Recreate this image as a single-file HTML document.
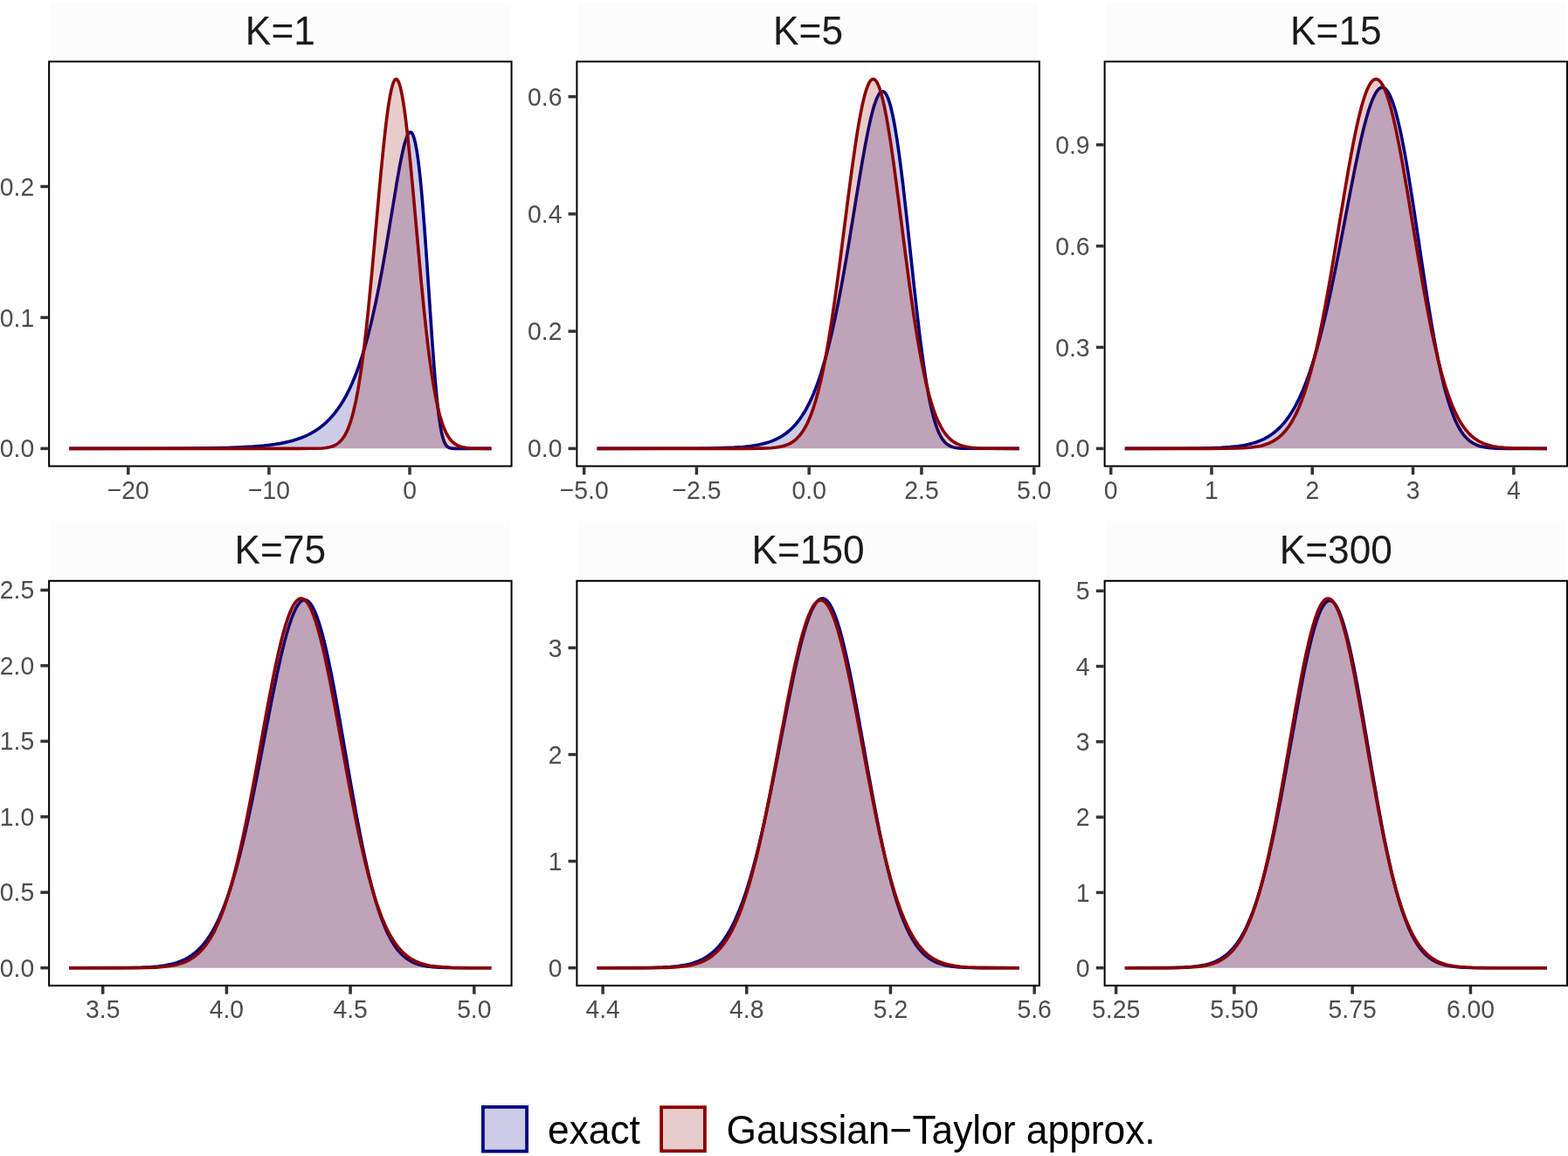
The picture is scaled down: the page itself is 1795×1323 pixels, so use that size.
<!DOCTYPE html><html><head><meta charset="utf-8"><title>Exact vs Gaussian-Taylor approximation densities</title><style>html,body{margin:0;padding:0;background:#fff;overflow:hidden;}svg{display:block;}</style></head><body>
<svg width="1795" height="1323" viewBox="0 0 1795 1323" font-family='"Liberation Sans", Arial, Helvetica, sans-serif'>
<rect x="0" y="0" width="1795" height="1323" fill="#ffffff"/>
<defs><clipPath id="c0"><rect x="55.14" y="69.40" width="531.43" height="465.10"/></clipPath><path id="p00" d="M79.30 513.36 L187.87 513.26 L217.19 513.12 L239.74 512.89 L259.40 512.49 L275.83 511.91 L289.84 511.12 L302.09 510.08 L308.37 509.38 L314.33 508.57 L319.97 507.65 L325.29 506.63 L330.28 505.50 L335.11 504.23 L339.78 502.80 L344.13 501.28 L348.32 499.60 L352.35 497.77 L356.21 495.79 L359.92 493.65 L363.46 491.36 L366.85 488.93 L370.23 486.23 L373.45 483.38 L376.83 480.07 L380.06 476.59 L383.28 472.74 L386.34 468.71 L389.24 464.53 L392.14 459.97 L395.04 454.99 L397.78 449.87 L400.52 444.31 L403.09 438.65 L405.67 432.53 L408.09 426.37 L410.50 419.76 L412.92 412.68 L415.34 405.09 L417.59 397.54 L421.78 382.23 L425.97 365.14 L430.00 346.97 L434.18 326.24 L437.73 307.28 L441.59 285.27 L455.13 203.70 L457.70 189.42 L460.12 177.27 L461.57 170.76 L462.86 165.58 L464.15 161.05 L465.27 157.70 L466.40 154.98 L467.53 152.95 L468.17 152.13 L468.66 151.68 L469.30 151.32 L469.79 151.24 L470.59 151.46 L471.24 151.98 L472.04 153.07 L472.69 154.31 L473.49 156.34 L474.14 158.35 L475.42 163.46 L476.87 171.00 L478.16 179.31 L479.45 189.18 L480.74 200.58 L482.03 213.48 L483.32 227.81 L485.89 260.30 L488.31 294.40 L494.75 390.26 L496.53 414.43 L498.30 436.35 L500.39 458.66 L502.33 475.42 L503.29 482.38 L504.26 488.43 L505.23 493.60 L506.35 498.60 L507.16 501.55 L508.13 504.47 L509.09 506.80 L510.22 508.88 L511.35 510.39 L512.48 511.45 L513.76 512.26 L515.37 512.84 L517.63 513.20 L521.17 513.34 L562.41 513.36"/><path id="p01" d="M79.30 513.36 L342.20 513.36 L355.73 513.32 L363.46 513.19 L368.94 512.93 L373.29 512.50 L377.00 511.85 L380.22 510.96 L383.12 509.77 L385.86 508.20 L388.27 506.33 L390.53 504.08 L392.14 502.10 L393.75 499.77 L395.36 497.05 L396.81 494.21 L398.26 490.97 L399.55 487.72 L401.00 483.61 L402.29 479.52 L403.58 475.00 L404.87 470.01 L407.44 458.52 L409.86 445.79 L412.28 431.03 L414.53 415.37 L416.95 396.54 L419.20 377.11 L421.62 354.43 L426.13 307.78 L433.70 223.41 L436.44 193.82 L439.34 164.72 L441.92 141.72 L443.53 129.09 L444.98 119.05 L446.43 110.38 L447.88 103.18 L449.33 97.54 L450.13 95.11 L450.78 93.53 L451.58 92.02 L452.23 91.19 L452.87 90.70 L453.52 90.54 L454.16 90.72 L454.80 91.24 L455.45 92.10 L456.09 93.29 L457.38 96.66 L458.67 101.33 L459.96 107.25 L461.41 115.32 L462.70 123.70 L464.15 134.36 L466.72 156.19 L469.62 184.32 L472.69 216.87 L482.19 322.12 L485.41 354.92 L488.47 383.28 L490.24 398.27 L492.02 412.15 L493.63 423.78 L495.40 435.49 L497.17 446.07 L498.94 455.57 L500.72 464.03 L502.65 472.13 L504.58 479.15 L506.68 485.64 L508.77 491.09 L510.86 495.62 L513.12 499.60 L515.54 502.99 L516.82 504.49 L518.11 505.79 L519.40 506.92 L520.85 508.02 L523.59 509.64 L526.65 510.92 L530.03 511.86 L533.90 512.53 L538.25 512.94 L543.73 513.19 L562.41 513.35"/><clipPath id="c1"><rect x="659.37" y="69.40" width="531.43" height="465.10"/></clipPath><path id="p10" d="M683.53 513.36 L775.67 513.30 L797.74 513.20 L814.17 513.01 L828.67 512.67 L840.59 512.16 L850.74 511.43 L859.44 510.48 L864.11 509.79 L868.62 508.98 L872.81 508.07 L876.68 507.06 L880.54 505.87 L884.09 504.59 L887.47 503.17 L890.69 501.63 L893.75 499.95 L896.81 498.05 L899.71 496.01 L902.61 493.72 L905.35 491.31 L907.93 488.78 L910.51 485.99 L913.08 482.91 L915.66 479.52 L918.08 476.03 L920.49 472.22 L922.75 468.35 L925.00 464.15 L927.26 459.62 L929.52 454.73 L931.61 449.84 L933.70 444.61 L935.80 439.02 L937.89 433.05 L939.99 426.69 L944.01 413.31 L947.88 398.98 L951.75 383.14 L955.61 365.78 L959.48 346.92 L963.51 325.76 L967.05 305.99 L970.92 283.37 L982.68 211.40 L986.70 187.38 L990.73 164.84 L994.44 146.13 L996.69 135.99 L998.79 127.61 L1000.88 120.34 L1002.81 114.73 L1004.75 110.26 L1005.71 108.49 L1006.52 107.26 L1007.48 106.08 L1008.45 105.24 L1009.42 104.74 L1010.22 104.60 L1011.19 104.75 L1012.16 105.28 L1013.12 106.17 L1014.09 107.44 L1015.06 109.09 L1016.02 111.12 L1016.99 113.54 L1017.96 116.34 L1019.89 123.08 L1021.82 131.34 L1023.75 141.07 L1025.85 153.19 L1027.62 164.66 L1029.55 178.35 L1031.49 193.15 L1033.58 210.27 L1037.77 247.12 L1045.82 322.09 L1049.37 354.08 L1053.07 385.34 L1056.62 412.33 L1058.71 426.70 L1060.64 438.85 L1062.58 449.89 L1064.67 460.60 L1066.61 469.33 L1068.70 477.60 L1070.79 484.69 L1072.89 490.68 L1074.82 495.31 L1076.92 499.47 L1079.01 502.83 L1081.26 505.68 L1083.52 507.86 L1084.81 508.86 L1086.10 509.70 L1088.84 511.05 L1090.45 511.63 L1092.06 512.07 L1094.64 512.58 L1097.54 512.93 L1101.08 513.17 L1105.43 513.29 L1166.64 513.36"/><path id="p11" d="M683.53 513.36 L855.73 513.33 L872.00 513.16 L877.64 512.98 L882.48 512.70 L888.76 512.06 L894.07 511.13 L896.49 510.54 L898.91 509.80 L901.00 509.03 L903.10 508.11 L905.03 507.11 L906.96 505.94 L908.73 504.72 L910.51 503.31 L912.28 501.72 L913.89 500.09 L915.50 498.26 L917.11 496.22 L919.04 493.48 L920.82 490.65 L922.59 487.50 L924.20 484.33 L925.81 480.84 L927.42 477.03 L929.03 472.88 L930.64 468.35 L933.70 458.69 L936.76 447.54 L939.66 435.52 L942.56 422.03 L945.46 407.05 L948.52 389.63 L951.58 370.62 L954.81 349.03 L957.71 328.36 L960.77 305.53 L971.24 223.84 L975.27 193.41 L979.29 165.13 L981.23 152.65 L983.00 141.97 L985.25 129.56 L987.35 119.36 L989.44 110.56 L991.54 103.26 L992.66 99.98 L993.63 97.55 L994.60 95.47 L995.56 93.75 L996.69 92.21 L997.66 91.28 L998.62 90.73 L999.59 90.54 L1000.40 90.67 L1001.36 91.17 L1002.17 91.87 L1003.13 93.04 L1003.94 94.30 L1004.91 96.14 L1005.87 98.34 L1006.84 100.90 L1008.61 106.47 L1010.54 113.81 L1012.48 122.40 L1014.57 133.01 L1016.34 142.96 L1018.28 154.73 L1020.37 168.44 L1022.47 182.98 L1026.98 216.47 L1036.64 292.00 L1040.99 324.89 L1045.66 357.91 L1047.92 372.75 L1050.17 386.78 L1052.75 401.77 L1055.33 415.60 L1057.91 428.25 L1060.48 439.72 L1063.06 450.05 L1065.80 459.81 L1068.54 468.38 L1071.28 475.85 L1074.18 482.64 L1077.08 488.41 L1078.53 490.94 L1080.14 493.49 L1081.75 495.80 L1083.36 497.88 L1084.97 499.75 L1086.74 501.57 L1088.51 503.19 L1090.29 504.60 L1092.22 505.95 L1094.15 507.11 L1096.25 508.19 L1098.50 509.16 L1102.53 510.49 L1107.04 511.53 L1112.19 512.29 L1118.32 512.81 L1124.92 513.10 L1133.46 513.27 L1166.64 513.36"/><clipPath id="c2"><rect x="1263.60" y="69.40" width="531.43" height="465.10"/></clipPath><path id="p20" d="M1287.76 513.36 L1354.61 513.26 L1372.33 513.10 L1385.86 512.82 L1397.94 512.35 L1408.09 511.66 L1416.95 510.71 L1424.85 509.45 L1429.03 508.58 L1432.90 507.62 L1436.77 506.47 L1440.31 505.24 L1443.69 503.88 L1447.08 502.31 L1450.14 500.69 L1453.20 498.86 L1456.10 496.91 L1459.00 494.72 L1461.74 492.43 L1464.48 489.88 L1467.05 487.23 L1469.63 484.33 L1472.21 481.15 L1474.62 477.90 L1476.88 474.62 L1478.97 471.34 L1481.23 467.56 L1483.32 463.79 L1487.51 455.48 L1491.54 446.45 L1495.57 436.34 L1499.43 425.55 L1503.30 413.66 L1507.00 401.21 L1511.03 386.49 L1515.22 369.87 L1519.41 351.98 L1523.76 332.13 L1527.78 312.74 L1531.97 291.71 L1546.15 217.58 L1551.30 191.38 L1556.62 166.11 L1559.04 155.48 L1561.29 146.15 L1564.19 135.14 L1567.09 125.37 L1569.83 117.43 L1571.12 114.16 L1572.41 111.20 L1573.70 108.57 L1574.98 106.28 L1576.27 104.33 L1577.40 102.92 L1578.69 101.64 L1579.98 100.74 L1581.27 100.22 L1582.40 100.07 L1583.68 100.27 L1584.97 100.86 L1586.26 101.84 L1587.39 103.03 L1588.52 104.51 L1589.81 106.58 L1591.09 109.05 L1592.38 111.90 L1594.80 118.30 L1597.38 126.57 L1599.95 136.29 L1602.53 147.36 L1604.95 158.89 L1607.36 171.43 L1609.94 185.79 L1612.68 202.02 L1618.16 236.76 L1629.11 309.88 L1633.94 341.20 L1639.10 372.56 L1641.52 386.29 L1643.93 399.32 L1646.83 413.94 L1649.57 426.68 L1652.31 438.36 L1655.05 448.97 L1657.79 458.52 L1660.53 467.03 L1663.42 474.95 L1666.32 481.83 L1669.22 487.73 L1672.29 492.98 L1673.73 495.15 L1675.35 497.35 L1676.96 499.32 L1678.57 501.09 L1680.18 502.68 L1681.95 504.22 L1683.72 505.57 L1685.66 506.85 L1687.59 507.95 L1689.52 508.89 L1691.62 509.74 L1693.87 510.50 L1697.90 511.52 L1702.25 512.24 L1707.24 512.76 L1713.36 513.09 L1728.18 513.33 L1770.87 513.36"/><path id="p21" d="M1287.76 513.36 L1380.55 513.35 L1405.51 513.23 L1415.50 513.04 L1423.40 512.72 L1430.16 512.24 L1435.96 511.58 L1439.34 511.05 L1442.57 510.41 L1445.63 509.65 L1448.53 508.79 L1451.27 507.81 L1453.84 506.73 L1456.42 505.47 L1458.84 504.09 L1461.25 502.52 L1463.51 500.85 L1465.76 498.95 L1467.86 496.99 L1469.95 494.79 L1472.05 492.36 L1473.98 489.88 L1475.91 487.17 L1477.85 484.21 L1479.62 481.25 L1483.16 474.63 L1486.71 466.96 L1490.09 458.60 L1493.47 449.15 L1496.69 439.08 L1500.08 427.34 L1503.30 415.04 L1506.84 400.24 L1510.55 383.36 L1514.25 365.12 L1517.96 345.62 L1521.50 325.94 L1525.37 303.53 L1538.42 224.72 L1543.57 194.52 L1546.31 179.25 L1548.89 165.57 L1551.30 153.46 L1553.56 142.87 L1556.46 130.43 L1559.20 120.01 L1561.94 111.01 L1563.39 106.87 L1564.67 103.55 L1566.12 100.25 L1567.41 97.71 L1568.70 95.55 L1569.99 93.76 L1571.28 92.37 L1572.57 91.37 L1573.86 90.76 L1575.15 90.54 L1576.27 90.68 L1577.56 91.21 L1578.69 91.99 L1579.98 93.26 L1581.11 94.68 L1582.40 96.67 L1583.52 98.73 L1584.81 101.42 L1587.23 107.46 L1589.81 115.25 L1592.38 124.34 L1594.96 134.66 L1597.38 145.34 L1599.79 156.89 L1602.37 170.06 L1605.11 184.87 L1610.75 217.36 L1622.83 290.45 L1628.31 322.59 L1634.11 354.54 L1636.84 368.67 L1639.58 382.10 L1642.81 396.94 L1646.03 410.71 L1649.09 422.77 L1652.31 434.39 L1655.53 444.92 L1658.75 454.39 L1662.14 463.25 L1665.52 471.05 L1669.06 478.17 L1672.61 484.29 L1674.38 487.02 L1676.31 489.74 L1678.25 492.23 L1680.34 494.68 L1682.43 496.88 L1684.53 498.86 L1686.62 500.63 L1688.88 502.33 L1691.13 503.83 L1693.55 505.24 L1695.97 506.46 L1698.54 507.58 L1700.96 508.48 L1703.54 509.31 L1709.01 510.66 L1715.14 511.68 L1722.06 512.40 L1729.80 512.86 L1739.30 513.15 L1751.70 513.29 L1770.87 513.35"/><clipPath id="c3"><rect x="55.14" y="663.80" width="531.43" height="465.10"/></clipPath><path id="p30" d="M79.30 1107.76 L135.52 1107.66 L150.34 1107.50 L161.78 1107.20 L172.09 1106.70 L180.95 1105.95 L188.68 1104.92 L195.44 1103.61 L199.15 1102.67 L202.53 1101.66 L205.75 1100.52 L208.98 1099.20 L212.04 1097.76 L214.94 1096.19 L217.84 1094.40 L220.57 1092.51 L223.31 1090.38 L225.89 1088.14 L228.47 1085.66 L230.88 1083.10 L233.30 1080.29 L235.72 1077.21 L237.97 1074.09 L240.23 1070.70 L242.48 1067.05 L244.74 1063.10 L246.99 1058.85 L249.25 1054.29 L251.50 1049.40 L253.60 1044.55 L257.79 1033.94 L261.98 1022.06 L266.16 1008.87 L270.19 994.93 L274.38 979.12 L277.92 964.73 L281.47 949.46 L285.01 933.37 L288.88 914.98 L295.64 881.11 L310.46 804.25 L316.91 772.58 L319.97 758.51 L322.87 745.96 L325.61 734.92 L328.18 725.35 L330.92 716.15 L333.66 708.05 L336.24 701.51 L337.53 698.65 L338.82 696.08 L340.11 693.81 L341.39 691.83 L342.68 690.16 L343.81 688.96 L345.10 687.87 L346.39 687.11 L347.68 686.67 L348.80 686.55 L350.09 686.72 L351.38 687.22 L352.67 688.05 L354.12 689.37 L355.41 690.89 L356.70 692.74 L357.99 694.90 L359.44 697.72 L360.73 700.55 L362.18 704.11 L364.91 711.86 L367.81 721.47 L370.71 732.42 L373.29 743.20 L376.03 755.62 L378.77 768.92 L381.83 784.69 L387.95 818.37 L400.84 892.94 L406.48 924.60 L409.54 941.06 L412.60 956.86 L415.50 971.13 L418.24 983.94 L421.62 998.79 L424.84 1011.89 L428.06 1023.95 L431.45 1035.48 L434.83 1045.87 L438.21 1055.15 L441.59 1063.37 L445.14 1070.89 L448.68 1077.40 L450.45 1080.29 L452.39 1083.19 L454.32 1085.84 L456.25 1088.26 L458.19 1090.45 L460.28 1092.59 L462.38 1094.51 L464.47 1096.22 L466.72 1097.85 L468.98 1099.28 L471.40 1100.61 L473.81 1101.76 L476.39 1102.81 L478.97 1103.69 L483.96 1105.02 L489.44 1106.02 L495.72 1106.75 L502.97 1107.25 L510.86 1107.52 L521.17 1107.68 L562.41 1107.76"/><path id="p31" d="M79.30 1107.76 L144.54 1107.72 L158.39 1107.63 L168.70 1107.46 L178.37 1107.10 L186.26 1106.56 L193.03 1105.81 L199.15 1104.77 L202.53 1104.01 L205.75 1103.12 L208.81 1102.12 L211.71 1100.99 L214.45 1099.75 L217.19 1098.31 L219.77 1096.76 L222.19 1095.11 L224.60 1093.26 L227.02 1091.17 L229.27 1089.01 L231.53 1086.61 L233.78 1083.95 L235.88 1081.25 L237.97 1078.30 L240.07 1075.09 L242.16 1071.61 L244.26 1067.83 L246.35 1063.75 L248.44 1059.36 L250.54 1054.63 L252.47 1049.96 L256.50 1039.26 L260.36 1027.71 L264.23 1014.85 L268.10 1000.68 L271.96 985.21 L275.19 971.35 L278.57 955.90 L281.95 939.61 L285.50 921.72 L291.94 887.53 L306.11 809.60 L312.56 776.03 L315.62 761.15 L318.52 747.89 L321.26 736.25 L323.84 726.16 L326.57 716.48 L329.31 707.96 L332.05 700.68 L333.34 697.70 L334.63 695.03 L335.92 692.65 L337.21 690.59 L338.49 688.84 L339.78 687.42 L341.07 686.31 L342.36 685.53 L343.65 685.07 L344.78 684.94 L346.07 685.10 L347.35 685.59 L348.64 686.40 L349.93 687.54 L351.22 688.99 L352.51 690.77 L353.80 692.86 L355.25 695.59 L356.54 698.33 L357.99 701.77 L360.73 709.26 L363.46 717.97 L366.36 728.45 L368.94 738.74 L371.68 750.58 L374.58 764.02 L377.64 779.07 L383.92 811.99 L397.13 884.68 L403.09 916.51 L406.31 932.99 L409.54 948.82 L412.60 963.19 L415.66 976.82 L419.20 991.65 L422.75 1005.40 L426.29 1018.05 L429.83 1029.60 L433.38 1040.06 L436.92 1049.46 L440.63 1058.21 L444.33 1065.91 L446.27 1069.54 L448.20 1072.92 L450.13 1076.05 L452.23 1079.18 L454.32 1082.06 L456.41 1084.69 L458.51 1087.10 L460.76 1089.45 L463.02 1091.57 L465.27 1093.49 L467.69 1095.32 L470.11 1096.94 L472.69 1098.47 L475.26 1099.81 L478.00 1101.04 L480.90 1102.16 L483.64 1103.06 L486.38 1103.83 L489.28 1104.53 L492.50 1105.16 L499.27 1106.15 L507.00 1106.85 L515.70 1107.30 L526.33 1107.57 L540.34 1107.70 L562.41 1107.75"/><clipPath id="c4"><rect x="659.37" y="663.80" width="531.43" height="465.10"/></clipPath><path id="p40" d="M683.53 1107.76 L733.46 1107.64 L747.16 1107.44 L757.95 1107.10 L767.62 1106.53 L775.99 1105.70 L783.24 1104.59 L786.63 1103.91 L789.85 1103.14 L793.39 1102.14 L796.61 1101.05 L799.67 1099.86 L802.73 1098.48 L805.63 1096.98 L808.53 1095.27 L811.27 1093.45 L813.85 1091.52 L816.43 1089.38 L819.01 1086.99 L821.42 1084.52 L823.84 1081.81 L826.25 1078.84 L828.51 1075.81 L830.76 1072.53 L833.02 1068.98 L835.28 1065.15 L837.37 1061.32 L839.63 1056.90 L841.72 1052.51 L845.91 1042.84 L849.94 1032.40 L854.12 1020.29 L858.15 1007.41 L862.18 993.30 L866.21 977.99 L869.59 964.21 L873.13 948.93 L876.68 932.86 L880.38 915.29 L887.15 881.60 L901.81 806.09 L908.41 773.77 L911.63 759.03 L914.53 746.52 L917.27 735.50 L920.01 725.33 L922.91 715.61 L925.65 707.52 L928.39 700.56 L929.84 697.36 L931.13 694.80 L932.41 692.53 L933.70 690.55 L934.99 688.86 L936.28 687.47 L937.57 686.38 L938.86 685.59 L940.15 685.11 L941.44 684.94 L942.89 685.12 L944.17 685.61 L945.46 686.41 L946.91 687.69 L948.20 689.15 L949.65 691.15 L950.94 693.26 L952.39 695.99 L953.68 698.73 L955.13 702.15 L958.03 710.07 L960.93 719.34 L963.83 729.87 L966.57 740.87 L969.31 752.81 L972.20 766.36 L975.43 782.34 L981.71 815.61 L995.08 890.02 L1001.04 922.20 L1004.42 939.66 L1007.48 954.82 L1010.54 969.29 L1013.44 982.30 L1016.99 997.22 L1020.53 1011.01 L1023.92 1023.10 L1027.46 1034.64 L1031.00 1045.03 L1034.55 1054.32 L1038.25 1062.90 L1041.96 1070.39 L1043.89 1073.89 L1045.82 1077.13 L1047.76 1080.12 L1049.69 1082.87 L1051.62 1085.39 L1053.72 1087.89 L1055.81 1090.15 L1057.91 1092.19 L1060.16 1094.17 L1062.42 1095.93 L1064.67 1097.49 L1067.09 1098.97 L1069.67 1100.34 L1072.24 1101.52 L1074.98 1102.59 L1077.88 1103.55 L1083.20 1104.91 L1089.16 1105.95 L1095.76 1106.70 L1103.66 1107.22 L1112.19 1107.51 L1123.31 1107.67 L1166.64 1107.76"/><path id="p41" d="M683.53 1107.76 L739.43 1107.70 L752.63 1107.57 L762.78 1107.34 L772.13 1106.91 L779.86 1106.27 L786.63 1105.38 L792.75 1104.18 L796.13 1103.32 L799.19 1102.37 L802.25 1101.26 L805.15 1100.02 L807.89 1098.67 L810.63 1097.12 L813.21 1095.45 L815.62 1093.68 L818.04 1091.71 L820.46 1089.51 L822.71 1087.23 L824.97 1084.72 L827.22 1081.95 L829.32 1079.15 L831.41 1076.10 L833.50 1072.80 L835.60 1069.23 L837.69 1065.37 L839.79 1061.22 L841.88 1056.76 L845.91 1047.29 L849.77 1037.01 L853.64 1025.54 L857.51 1012.84 L861.37 998.89 L865.24 983.72 L868.46 970.18 L871.84 955.12 L875.23 939.26 L878.93 921.09 L885.54 887.04 L899.71 811.50 L903.26 793.27 L906.32 778.11 L909.54 762.91 L912.44 750.03 L915.18 738.70 L917.92 728.26 L920.82 718.30 L923.55 710.02 L926.29 702.91 L927.74 699.64 L929.03 697.03 L930.48 694.44 L931.77 692.45 L933.06 690.76 L934.35 689.36 L935.64 688.27 L936.93 687.49 L938.21 687.01 L939.50 686.85 L940.79 686.99 L942.08 687.44 L943.37 688.20 L944.82 689.42 L946.11 690.83 L947.56 692.77 L948.85 694.81 L950.30 697.46 L951.58 700.11 L953.03 703.43 L955.93 711.11 L958.83 720.08 L961.73 730.25 L964.47 740.87 L967.21 752.38 L970.11 765.40 L973.17 779.96 L979.62 812.65 L993.31 885.65 L999.59 918.15 L1003.13 935.66 L1006.36 950.94 L1009.58 965.51 L1012.64 978.65 L1016.34 993.58 L1020.05 1007.39 L1023.59 1019.54 L1027.30 1031.12 L1031.00 1041.59 L1034.71 1050.98 L1038.41 1059.33 L1042.28 1067.00 L1044.21 1070.46 L1046.31 1073.94 L1048.40 1077.15 L1050.50 1080.12 L1052.59 1082.84 L1054.85 1085.52 L1057.10 1087.96 L1059.36 1090.17 L1061.77 1092.31 L1064.19 1094.22 L1066.61 1095.92 L1069.18 1097.54 L1071.76 1098.95 L1074.50 1100.27 L1077.40 1101.47 L1080.30 1102.50 L1083.04 1103.33 L1085.94 1104.08 L1092.22 1105.33 L1099.31 1106.27 L1107.52 1106.94 L1116.54 1107.35 L1127.82 1107.59 L1166.64 1107.75"/><clipPath id="c5"><rect x="1263.60" y="663.80" width="531.43" height="465.10"/></clipPath><path id="p50" d="M1287.76 1107.76 L1333.02 1107.64 L1345.27 1107.45 L1354.93 1107.11 L1363.63 1106.55 L1371.04 1105.74 L1377.65 1104.64 L1380.71 1103.96 L1383.61 1103.19 L1386.67 1102.24 L1389.73 1101.11 L1392.63 1099.85 L1395.37 1098.48 L1397.94 1097.00 L1400.52 1095.32 L1402.94 1093.54 L1405.35 1091.55 L1407.77 1089.32 L1410.03 1087.01 L1412.28 1084.46 L1414.38 1081.86 L1416.47 1079.03 L1418.56 1075.94 L1420.66 1072.58 L1422.59 1069.24 L1424.69 1065.33 L1426.62 1061.45 L1430.48 1052.86 L1434.35 1043.09 L1438.06 1032.56 L1441.76 1020.84 L1445.30 1008.49 L1449.01 994.38 L1452.72 979.06 L1455.78 965.52 L1459.00 950.44 L1462.22 934.59 L1465.60 917.20 L1471.72 884.21 L1485.26 808.81 L1491.22 777.25 L1494.12 762.86 L1496.85 750.05 L1499.43 738.78 L1502.01 728.41 L1504.75 718.47 L1507.33 710.22 L1509.90 703.15 L1512.32 697.64 L1513.61 695.17 L1514.90 693.03 L1516.19 691.23 L1517.31 689.94 L1518.60 688.79 L1519.73 688.07 L1521.02 687.58 L1522.15 687.44 L1523.27 687.58 L1524.56 688.08 L1525.69 688.80 L1526.98 689.96 L1528.11 691.27 L1529.40 693.10 L1530.68 695.27 L1531.97 697.78 L1534.39 703.41 L1536.97 710.66 L1539.54 719.14 L1542.28 729.42 L1544.86 740.19 L1547.44 751.91 L1550.18 765.30 L1553.08 780.37 L1559.20 814.49 L1572.41 892.19 L1578.37 926.05 L1581.59 943.47 L1584.81 960.09 L1587.87 975.06 L1590.77 988.44 L1594.48 1004.33 L1598.02 1018.22 L1601.57 1030.81 L1605.11 1042.13 L1608.65 1052.20 L1612.36 1061.45 L1614.29 1065.79 L1616.22 1069.81 L1618.16 1073.52 L1620.09 1076.94 L1622.02 1080.08 L1623.96 1082.96 L1625.89 1085.59 L1627.82 1087.99 L1629.76 1090.16 L1631.85 1092.30 L1633.94 1094.21 L1636.20 1096.04 L1638.46 1097.65 L1640.71 1099.07 L1643.13 1100.40 L1645.70 1101.62 L1648.44 1102.72 L1651.18 1103.64 L1654.08 1104.45 L1657.14 1105.15 L1662.62 1106.08 L1668.74 1106.76 L1675.83 1107.22 L1684.53 1107.52 L1706.28 1107.73 L1770.87 1107.76"/><path id="p51" d="M1287.76 1107.76 L1336.41 1107.69 L1348.49 1107.54 L1357.67 1107.28 L1366.05 1106.81 L1373.14 1106.12 L1379.42 1105.15 L1385.06 1103.87 L1388.12 1102.96 L1391.02 1101.93 L1393.76 1100.78 L1396.33 1099.53 L1398.91 1098.08 L1401.33 1096.53 L1403.74 1094.76 L1406.00 1092.91 L1408.25 1090.83 L1410.35 1088.69 L1412.44 1086.33 L1414.54 1083.72 L1416.63 1080.87 L1418.56 1077.98 L1420.50 1074.86 L1422.43 1071.47 L1424.36 1067.82 L1426.30 1063.88 L1430.00 1055.48 L1433.71 1045.92 L1437.25 1035.62 L1440.79 1024.15 L1444.34 1011.47 L1447.88 997.57 L1451.59 981.77 L1454.65 967.77 L1457.71 952.95 L1460.93 936.55 L1464.15 919.41 L1470.11 886.18 L1483.32 810.09 L1489.28 777.49 L1492.18 762.64 L1494.92 749.42 L1497.50 737.82 L1500.08 727.15 L1502.82 716.92 L1505.39 708.45 L1507.97 701.19 L1509.26 698.03 L1510.55 695.20 L1511.84 692.70 L1513.13 690.54 L1514.41 688.72 L1515.54 687.43 L1516.83 686.27 L1517.96 685.55 L1519.25 685.07 L1520.37 684.94 L1521.50 685.09 L1522.79 685.59 L1523.92 686.33 L1525.21 687.50 L1526.33 688.82 L1527.62 690.65 L1528.75 692.54 L1530.04 695.01 L1532.46 700.55 L1535.03 707.70 L1537.61 716.05 L1540.35 726.16 L1542.93 736.75 L1545.50 748.26 L1548.24 761.40 L1551.14 776.18 L1557.26 809.59 L1570.80 887.51 L1576.92 921.54 L1580.30 939.43 L1583.52 955.70 L1586.74 971.12 L1589.81 984.93 L1593.51 1000.48 L1597.22 1014.72 L1600.92 1027.64 L1604.63 1039.24 L1608.33 1049.58 L1610.26 1054.48 L1612.20 1059.07 L1614.13 1063.35 L1616.06 1067.32 L1618.00 1071.02 L1620.09 1074.71 L1622.02 1077.85 L1624.12 1080.97 L1626.05 1083.61 L1628.15 1086.22 L1630.24 1088.60 L1632.50 1090.90 L1634.75 1092.97 L1637.01 1094.82 L1639.42 1096.58 L1641.84 1098.12 L1644.42 1099.57 L1646.99 1100.82 L1649.73 1101.96 L1652.63 1102.98 L1655.69 1103.89 L1658.91 1104.67 L1664.71 1105.73 L1671.16 1106.51 L1678.73 1107.07 L1687.75 1107.44 L1697.58 1107.62 L1710.63 1107.72 L1770.87 1107.76"/></defs>
<rect x="56.84" y="2.00" width="528.03" height="65.50" fill="#FCFCFC"/>
<text transform="translate(320.85 51.00) scale(1 1.055)" font-size="44.3" fill="#1A1A1A" text-anchor="middle">K=1</text>
<g clip-path="url(#c0)">
<use href="#p00" fill="#000080" fill-opacity="0.20" stroke="none"/>
<use href="#p00" fill="none" stroke="#000080" stroke-width="3.60" stroke-linejoin="round" stroke-linecap="butt"/>
<use href="#p01" fill="#8B0000" fill-opacity="0.20" stroke="none"/>
<use href="#p01" fill="none" stroke="#8B0000" stroke-width="3.60" stroke-linejoin="round" stroke-linecap="butt"/>
<rect x="55.14" y="69.40" width="531.43" height="465.10" fill="none" stroke="#000" stroke-width="4.00"/>
</g>
<line x1="146.80" y1="534.50" x2="146.80" y2="543.30" stroke="#333333" stroke-width="3.50"/>
<text transform="translate(146.80 570.80) scale(1 1.070)" font-size="28.3" fill="#4D4D4D" text-anchor="middle">−20</text>
<line x1="307.90" y1="534.50" x2="307.90" y2="543.30" stroke="#333333" stroke-width="3.50"/>
<text transform="translate(307.90 570.80) scale(1 1.070)" font-size="28.3" fill="#4D4D4D" text-anchor="middle">−10</text>
<line x1="469.00" y1="534.50" x2="469.00" y2="543.30" stroke="#333333" stroke-width="3.50"/>
<text transform="translate(469.00 570.80) scale(1 1.070)" font-size="28.3" fill="#4D4D4D" text-anchor="middle">0</text>
<line x1="46.34" y1="513.36" x2="55.14" y2="513.36" stroke="#333333" stroke-width="3.50"/>
<text transform="translate(39.14 523.46) scale(1 1.070)" font-size="28.3" fill="#4D4D4D" text-anchor="end">0.0</text>
<line x1="46.34" y1="363.41" x2="55.14" y2="363.41" stroke="#333333" stroke-width="3.50"/>
<text transform="translate(39.14 373.51) scale(1 1.070)" font-size="28.3" fill="#4D4D4D" text-anchor="end">0.1</text>
<line x1="46.34" y1="213.47" x2="55.14" y2="213.47" stroke="#333333" stroke-width="3.50"/>
<text transform="translate(39.14 223.57) scale(1 1.070)" font-size="28.3" fill="#4D4D4D" text-anchor="end">0.2</text>
<rect x="661.07" y="2.00" width="528.03" height="65.50" fill="#FCFCFC"/>
<text transform="translate(925.09 51.00) scale(1 1.055)" font-size="44.3" fill="#1A1A1A" text-anchor="middle">K=5</text>
<g clip-path="url(#c1)">
<use href="#p10" fill="#000080" fill-opacity="0.20" stroke="none"/>
<use href="#p10" fill="none" stroke="#000080" stroke-width="3.60" stroke-linejoin="round" stroke-linecap="butt"/>
<use href="#p11" fill="#8B0000" fill-opacity="0.20" stroke="none"/>
<use href="#p11" fill="none" stroke="#8B0000" stroke-width="3.60" stroke-linejoin="round" stroke-linecap="butt"/>
<rect x="659.37" y="69.40" width="531.43" height="465.10" fill="none" stroke="#000" stroke-width="4.00"/>
</g>
<line x1="668.70" y1="534.50" x2="668.70" y2="543.30" stroke="#333333" stroke-width="3.50"/>
<text transform="translate(668.70 570.80) scale(1 1.070)" font-size="28.3" fill="#4D4D4D" text-anchor="middle">−5.0</text>
<line x1="797.45" y1="534.50" x2="797.45" y2="543.30" stroke="#333333" stroke-width="3.50"/>
<text transform="translate(797.45 570.80) scale(1 1.070)" font-size="28.3" fill="#4D4D4D" text-anchor="middle">−2.5</text>
<line x1="926.20" y1="534.50" x2="926.20" y2="543.30" stroke="#333333" stroke-width="3.50"/>
<text transform="translate(926.20 570.80) scale(1 1.070)" font-size="28.3" fill="#4D4D4D" text-anchor="middle">0.0</text>
<line x1="1054.95" y1="534.50" x2="1054.95" y2="543.30" stroke="#333333" stroke-width="3.50"/>
<text transform="translate(1054.95 570.80) scale(1 1.070)" font-size="28.3" fill="#4D4D4D" text-anchor="middle">2.5</text>
<line x1="1183.70" y1="534.50" x2="1183.70" y2="543.30" stroke="#333333" stroke-width="3.50"/>
<text transform="translate(1183.70 570.80) scale(1 1.070)" font-size="28.3" fill="#4D4D4D" text-anchor="middle">5.0</text>
<line x1="650.57" y1="513.36" x2="659.37" y2="513.36" stroke="#333333" stroke-width="3.50"/>
<text transform="translate(643.37 523.46) scale(1 1.070)" font-size="28.3" fill="#4D4D4D" text-anchor="end">0.0</text>
<line x1="650.57" y1="379.12" x2="659.37" y2="379.12" stroke="#333333" stroke-width="3.50"/>
<text transform="translate(643.37 389.22) scale(1 1.070)" font-size="28.3" fill="#4D4D4D" text-anchor="end">0.2</text>
<line x1="650.57" y1="244.89" x2="659.37" y2="244.89" stroke="#333333" stroke-width="3.50"/>
<text transform="translate(643.37 254.99) scale(1 1.070)" font-size="28.3" fill="#4D4D4D" text-anchor="end">0.4</text>
<line x1="650.57" y1="110.65" x2="659.37" y2="110.65" stroke="#333333" stroke-width="3.50"/>
<text transform="translate(643.37 120.75) scale(1 1.070)" font-size="28.3" fill="#4D4D4D" text-anchor="end">0.6</text>
<rect x="1265.30" y="2.00" width="528.03" height="65.50" fill="#FCFCFC"/>
<text transform="translate(1529.31 51.00) scale(1 1.055)" font-size="44.3" fill="#1A1A1A" text-anchor="middle">K=15</text>
<g clip-path="url(#c2)">
<use href="#p20" fill="#000080" fill-opacity="0.20" stroke="none"/>
<use href="#p20" fill="none" stroke="#000080" stroke-width="3.60" stroke-linejoin="round" stroke-linecap="butt"/>
<use href="#p21" fill="#8B0000" fill-opacity="0.20" stroke="none"/>
<use href="#p21" fill="none" stroke="#8B0000" stroke-width="3.60" stroke-linejoin="round" stroke-linecap="butt"/>
<rect x="1263.60" y="69.40" width="531.43" height="465.10" fill="none" stroke="#000" stroke-width="4.00"/>
</g>
<line x1="1271.70" y1="534.50" x2="1271.70" y2="543.30" stroke="#333333" stroke-width="3.50"/>
<text transform="translate(1271.70 570.80) scale(1 1.070)" font-size="28.3" fill="#4D4D4D" text-anchor="middle">0</text>
<line x1="1386.98" y1="534.50" x2="1386.98" y2="543.30" stroke="#333333" stroke-width="3.50"/>
<text transform="translate(1386.98 570.80) scale(1 1.070)" font-size="28.3" fill="#4D4D4D" text-anchor="middle">1</text>
<line x1="1502.26" y1="534.50" x2="1502.26" y2="543.30" stroke="#333333" stroke-width="3.50"/>
<text transform="translate(1502.26 570.80) scale(1 1.070)" font-size="28.3" fill="#4D4D4D" text-anchor="middle">2</text>
<line x1="1617.54" y1="534.50" x2="1617.54" y2="543.30" stroke="#333333" stroke-width="3.50"/>
<text transform="translate(1617.54 570.80) scale(1 1.070)" font-size="28.3" fill="#4D4D4D" text-anchor="middle">3</text>
<line x1="1732.82" y1="534.50" x2="1732.82" y2="543.30" stroke="#333333" stroke-width="3.50"/>
<text transform="translate(1732.82 570.80) scale(1 1.070)" font-size="28.3" fill="#4D4D4D" text-anchor="middle">4</text>
<line x1="1254.80" y1="513.36" x2="1263.60" y2="513.36" stroke="#333333" stroke-width="3.50"/>
<text transform="translate(1247.60 523.46) scale(1 1.070)" font-size="28.3" fill="#4D4D4D" text-anchor="end">0.0</text>
<line x1="1254.80" y1="397.50" x2="1263.60" y2="397.50" stroke="#333333" stroke-width="3.50"/>
<text transform="translate(1247.60 407.60) scale(1 1.070)" font-size="28.3" fill="#4D4D4D" text-anchor="end">0.3</text>
<line x1="1254.80" y1="281.64" x2="1263.60" y2="281.64" stroke="#333333" stroke-width="3.50"/>
<text transform="translate(1247.60 291.74) scale(1 1.070)" font-size="28.3" fill="#4D4D4D" text-anchor="end">0.6</text>
<line x1="1254.80" y1="165.77" x2="1263.60" y2="165.77" stroke="#333333" stroke-width="3.50"/>
<text transform="translate(1247.60 175.87) scale(1 1.070)" font-size="28.3" fill="#4D4D4D" text-anchor="end">0.9</text>
<rect x="56.84" y="596.40" width="528.03" height="65.50" fill="#FCFCFC"/>
<text transform="translate(320.85 645.40) scale(1 1.055)" font-size="44.3" fill="#1A1A1A" text-anchor="middle">K=75</text>
<g clip-path="url(#c3)">
<use href="#p30" fill="#000080" fill-opacity="0.20" stroke="none"/>
<use href="#p30" fill="none" stroke="#000080" stroke-width="3.60" stroke-linejoin="round" stroke-linecap="butt"/>
<use href="#p31" fill="#8B0000" fill-opacity="0.20" stroke="none"/>
<use href="#p31" fill="none" stroke="#8B0000" stroke-width="3.60" stroke-linejoin="round" stroke-linecap="butt"/>
<rect x="55.14" y="663.80" width="531.43" height="465.10" fill="none" stroke="#000" stroke-width="4.00"/>
</g>
<line x1="117.70" y1="1128.90" x2="117.70" y2="1137.70" stroke="#333333" stroke-width="3.50"/>
<text transform="translate(117.70 1165.20) scale(1 1.070)" font-size="28.3" fill="#4D4D4D" text-anchor="middle">3.5</text>
<line x1="259.40" y1="1128.90" x2="259.40" y2="1137.70" stroke="#333333" stroke-width="3.50"/>
<text transform="translate(259.40 1165.20) scale(1 1.070)" font-size="28.3" fill="#4D4D4D" text-anchor="middle">4.0</text>
<line x1="401.10" y1="1128.90" x2="401.10" y2="1137.70" stroke="#333333" stroke-width="3.50"/>
<text transform="translate(401.10 1165.20) scale(1 1.070)" font-size="28.3" fill="#4D4D4D" text-anchor="middle">4.5</text>
<line x1="542.80" y1="1128.90" x2="542.80" y2="1137.70" stroke="#333333" stroke-width="3.50"/>
<text transform="translate(542.80 1165.20) scale(1 1.070)" font-size="28.3" fill="#4D4D4D" text-anchor="middle">5.0</text>
<line x1="46.34" y1="1107.76" x2="55.14" y2="1107.76" stroke="#333333" stroke-width="3.50"/>
<text transform="translate(39.14 1117.86) scale(1 1.070)" font-size="28.3" fill="#4D4D4D" text-anchor="end">0.0</text>
<line x1="46.34" y1="1021.28" x2="55.14" y2="1021.28" stroke="#333333" stroke-width="3.50"/>
<text transform="translate(39.14 1031.38) scale(1 1.070)" font-size="28.3" fill="#4D4D4D" text-anchor="end">0.5</text>
<line x1="46.34" y1="934.80" x2="55.14" y2="934.80" stroke="#333333" stroke-width="3.50"/>
<text transform="translate(39.14 944.90) scale(1 1.070)" font-size="28.3" fill="#4D4D4D" text-anchor="end">1.0</text>
<line x1="46.34" y1="848.32" x2="55.14" y2="848.32" stroke="#333333" stroke-width="3.50"/>
<text transform="translate(39.14 858.42) scale(1 1.070)" font-size="28.3" fill="#4D4D4D" text-anchor="end">1.5</text>
<line x1="46.34" y1="761.84" x2="55.14" y2="761.84" stroke="#333333" stroke-width="3.50"/>
<text transform="translate(39.14 771.94) scale(1 1.070)" font-size="28.3" fill="#4D4D4D" text-anchor="end">2.0</text>
<line x1="46.34" y1="675.36" x2="55.14" y2="675.36" stroke="#333333" stroke-width="3.50"/>
<text transform="translate(39.14 685.46) scale(1 1.070)" font-size="28.3" fill="#4D4D4D" text-anchor="end">2.5</text>
<rect x="661.07" y="596.40" width="528.03" height="65.50" fill="#FCFCFC"/>
<text transform="translate(925.09 645.40) scale(1 1.055)" font-size="44.3" fill="#1A1A1A" text-anchor="middle">K=150</text>
<g clip-path="url(#c4)">
<use href="#p40" fill="#000080" fill-opacity="0.20" stroke="none"/>
<use href="#p40" fill="none" stroke="#000080" stroke-width="3.60" stroke-linejoin="round" stroke-linecap="butt"/>
<use href="#p41" fill="#8B0000" fill-opacity="0.20" stroke="none"/>
<use href="#p41" fill="none" stroke="#8B0000" stroke-width="3.60" stroke-linejoin="round" stroke-linecap="butt"/>
<rect x="659.37" y="663.80" width="531.43" height="465.10" fill="none" stroke="#000" stroke-width="4.00"/>
</g>
<line x1="690.10" y1="1128.90" x2="690.10" y2="1137.70" stroke="#333333" stroke-width="3.50"/>
<text transform="translate(690.10 1165.20) scale(1 1.070)" font-size="28.3" fill="#4D4D4D" text-anchor="middle">4.4</text>
<line x1="854.78" y1="1128.90" x2="854.78" y2="1137.70" stroke="#333333" stroke-width="3.50"/>
<text transform="translate(854.78 1165.20) scale(1 1.070)" font-size="28.3" fill="#4D4D4D" text-anchor="middle">4.8</text>
<line x1="1019.46" y1="1128.90" x2="1019.46" y2="1137.70" stroke="#333333" stroke-width="3.50"/>
<text transform="translate(1019.46 1165.20) scale(1 1.070)" font-size="28.3" fill="#4D4D4D" text-anchor="middle">5.2</text>
<line x1="1184.14" y1="1128.90" x2="1184.14" y2="1137.70" stroke="#333333" stroke-width="3.50"/>
<text transform="translate(1184.14 1165.20) scale(1 1.070)" font-size="28.3" fill="#4D4D4D" text-anchor="middle">5.6</text>
<line x1="650.57" y1="1107.76" x2="659.37" y2="1107.76" stroke="#333333" stroke-width="3.50"/>
<text transform="translate(643.37 1117.86) scale(1 1.070)" font-size="28.3" fill="#4D4D4D" text-anchor="end">0</text>
<line x1="650.57" y1="985.65" x2="659.37" y2="985.65" stroke="#333333" stroke-width="3.50"/>
<text transform="translate(643.37 995.75) scale(1 1.070)" font-size="28.3" fill="#4D4D4D" text-anchor="end">1</text>
<line x1="650.57" y1="863.53" x2="659.37" y2="863.53" stroke="#333333" stroke-width="3.50"/>
<text transform="translate(643.37 873.63) scale(1 1.070)" font-size="28.3" fill="#4D4D4D" text-anchor="end">2</text>
<line x1="650.57" y1="741.42" x2="659.37" y2="741.42" stroke="#333333" stroke-width="3.50"/>
<text transform="translate(643.37 751.52) scale(1 1.070)" font-size="28.3" fill="#4D4D4D" text-anchor="end">3</text>
<rect x="1265.30" y="596.40" width="528.03" height="65.50" fill="#FCFCFC"/>
<text transform="translate(1529.31 645.40) scale(1 1.055)" font-size="44.3" fill="#1A1A1A" text-anchor="middle">K=300</text>
<g clip-path="url(#c5)">
<use href="#p50" fill="#000080" fill-opacity="0.20" stroke="none"/>
<use href="#p50" fill="none" stroke="#000080" stroke-width="3.60" stroke-linejoin="round" stroke-linecap="butt"/>
<use href="#p51" fill="#8B0000" fill-opacity="0.20" stroke="none"/>
<use href="#p51" fill="none" stroke="#8B0000" stroke-width="3.60" stroke-linejoin="round" stroke-linecap="butt"/>
<rect x="1263.60" y="663.80" width="531.43" height="465.10" fill="none" stroke="#000" stroke-width="4.00"/>
</g>
<line x1="1277.60" y1="1128.90" x2="1277.60" y2="1137.70" stroke="#333333" stroke-width="3.50"/>
<text transform="translate(1277.60 1165.20) scale(1 1.070)" font-size="28.3" fill="#4D4D4D" text-anchor="middle">5.25</text>
<line x1="1412.88" y1="1128.90" x2="1412.88" y2="1137.70" stroke="#333333" stroke-width="3.50"/>
<text transform="translate(1412.88 1165.20) scale(1 1.070)" font-size="28.3" fill="#4D4D4D" text-anchor="middle">5.50</text>
<line x1="1548.15" y1="1128.90" x2="1548.15" y2="1137.70" stroke="#333333" stroke-width="3.50"/>
<text transform="translate(1548.15 1165.20) scale(1 1.070)" font-size="28.3" fill="#4D4D4D" text-anchor="middle">5.75</text>
<line x1="1683.43" y1="1128.90" x2="1683.43" y2="1137.70" stroke="#333333" stroke-width="3.50"/>
<text transform="translate(1683.43 1165.20) scale(1 1.070)" font-size="28.3" fill="#4D4D4D" text-anchor="middle">6.00</text>
<line x1="1254.80" y1="1107.76" x2="1263.60" y2="1107.76" stroke="#333333" stroke-width="3.50"/>
<text transform="translate(1247.60 1117.86) scale(1 1.070)" font-size="28.3" fill="#4D4D4D" text-anchor="end">0</text>
<line x1="1254.80" y1="1021.46" x2="1263.60" y2="1021.46" stroke="#333333" stroke-width="3.50"/>
<text transform="translate(1247.60 1031.56) scale(1 1.070)" font-size="28.3" fill="#4D4D4D" text-anchor="end">1</text>
<line x1="1254.80" y1="935.16" x2="1263.60" y2="935.16" stroke="#333333" stroke-width="3.50"/>
<text transform="translate(1247.60 945.26) scale(1 1.070)" font-size="28.3" fill="#4D4D4D" text-anchor="end">2</text>
<line x1="1254.80" y1="848.86" x2="1263.60" y2="848.86" stroke="#333333" stroke-width="3.50"/>
<text transform="translate(1247.60 858.96) scale(1 1.070)" font-size="28.3" fill="#4D4D4D" text-anchor="end">3</text>
<line x1="1254.80" y1="762.57" x2="1263.60" y2="762.57" stroke="#333333" stroke-width="3.50"/>
<text transform="translate(1247.60 772.67) scale(1 1.070)" font-size="28.3" fill="#4D4D4D" text-anchor="end">4</text>
<line x1="1254.80" y1="676.27" x2="1263.60" y2="676.27" stroke="#333333" stroke-width="3.50"/>
<text transform="translate(1247.60 686.37) scale(1 1.070)" font-size="28.3" fill="#4D4D4D" text-anchor="end">5</text>
<rect x="552.90" y="1266.90" width="50.20" height="50.70" fill="#000080" fill-opacity="0.20" stroke="#000080" stroke-width="3.8"/>
<text transform="translate(627.00 1308.90) scale(1 1.030)" font-size="44.3" fill="#000">exact</text>
<rect x="757.10" y="1267.20" width="49.80" height="50.10" fill="#8B0000" fill-opacity="0.20" stroke="#8B0000" stroke-width="3.8"/>
<text transform="translate(831.50 1308.60) scale(1 1.030)" font-size="44.3" fill="#000">Gaussian−Taylor approx.</text>
</svg></body></html>
